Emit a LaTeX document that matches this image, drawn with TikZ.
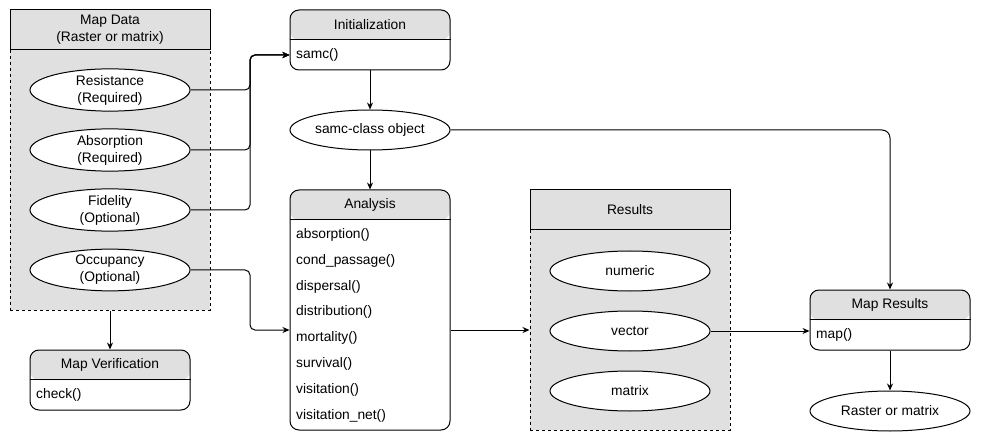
\documentclass[tikz,border=0pt]{standalone}
\usepackage{fontspec}
\setmainfont{Liberation Sans}
\usetikzlibrary{shapes.geometric,arrows.meta,calc}
\definecolor{hdr}{HTML}{E0E0E0}
\begin{document}
\begin{tikzpicture}[x=1pt,y=-1pt,
  every node/.style={font=\fontsize{13.8}{17}\selectfont, text=black},
  lane/.style={draw, rounded corners=9pt, fill=white, minimum width=160pt, minimum height=#1, inner sep=0pt, line width=1pt,
    path picture={\fill[hdr] (path picture bounding box.north west) rectangle ([yshift=-30pt]path picture bounding box.north east);}},
  cont/.style={draw, fill=hdr, line width=1pt, minimum width=200pt, inner sep=0pt, align=center},
  dashbox/.style={dash pattern=on 3pt off 3pt},
  ell/.style={ellipse, draw, fill=white, minimum width=160pt, minimum height=40pt, inner sep=0pt, align=center, line width=1pt},
  row/.style={anchor=west, inner sep=0pt},
  sep/.style={draw, line width=1pt},
  conn/.style={draw, line width=1pt, -{Stealth[length=7pt,width=6pt]}},
]
\useasboundingbox (0,0) rectangle (981,443);

% Map Data container
\node[cont, dashbox, minimum height=260pt] (mdb) at (110,180) {};
\node[cont, minimum height=40pt] (mdh) at (110,30) {Map Data\\(Raster or matrix)};
\node[ell] (res) at (110,90) {Resistance\\(Required)};
\node[ell] (abs) at (110,150) {Absorption\\(Required)};
\node[ell] (fid) at (110,210) {Fidelity\\(Optional)};
\node[ell] (occ) at (110,270) {Occupancy\\(Optional)};

% Map Verification
\node[lane=60pt] (mv) at (110,380) {};
\node (mvh) at (110,365) {Map Verification};
\draw[sep] ([yshift=-30pt]mv.north west) -- ([yshift=-30pt]mv.north east);
\node[row] (mvr) at (36,395) {check()};

% Initialization
\node[lane=60pt] (init) at (370,40) {};
\node (inith) at (370,25) {Initialization};
\draw[sep] ([yshift=-30pt]init.north west) -- ([yshift=-30pt]init.north east);
\node[row] (samc) at (296,55) {samc()};

% samc-class object
\node[ell] (sco) at (370,130) {samc-class object};

% Analysis
\node[lane=240pt] (ana) at (370,310) {};
\node (anah) at (370,205) {Analysis};
\draw[sep] ([yshift=-30pt]ana.north west) -- ([yshift=-30pt]ana.north east);
\node[row] (r1) at (296,235) {absorption()};
\node[row] (r2) at (296,261) {cond\_passage()};
\node[row] (r3) at (296,287) {dispersal()};
\node[row] (r4) at (296,312) {distribution()};
\node[row] (r5) at (296,338) {mortality()};
\node[row] (r6) at (296,364) {survival()};
\node[row] (r7) at (296,390) {visitation()};
\node[row] (r8) at (296,416) {visitation\_net()};

% Results
\node[cont, dashbox, minimum height=200pt] (rb) at (630,330) {};
\node[cont, minimum height=40pt] (rh) at (630,210) {Results};
\node[ell] (num) at (630,271) {numeric};
\node[ell] (vec) at (630,331) {vector};
\node[ell] (mat) at (630,391) {matrix};

% Map Results
\node[lane=60pt] (mres) at (890,320) {};
\node (mresh) at (890,305) {Map Results};
\draw[sep] ([yshift=-30pt]mres.north west) -- ([yshift=-30pt]mres.north east);
\node[row] (mapf) at (816,335) {map()};
\node[ell] (rom) at (890,411) {Raster or matrix};

% Connectors
\coordinate (bus) at (250,0);
\draw[conn, rounded corners=5pt] (res.east) -- (res.east -| bus) |- ([yshift=-15pt]init.west);
\draw[conn, rounded corners=5pt] (abs.east) -- (abs.east -| bus) |- ([yshift=-15pt]init.west);
\draw[conn, rounded corners=5pt] (fid.east) -- (fid.east -| bus) |- ([yshift=-15pt]init.west);
\draw[conn, rounded corners=5pt] (occ.east) -- (occ.east -| bus) |- ([yshift=-20pt]ana.west);
\draw[conn] (mdb.south) -- (mv.north);
\draw[conn] (init.south) -- (sco.north);
\draw[conn] (sco.south) -- (ana.north);
\draw[conn, rounded corners=8pt] (sco.east) -| (mres.north);
\draw[conn] ([yshift=-20pt]ana.east) -- (rb.west);
\draw[conn] (vec.east) -- (vec.east -| mres.west);
\draw[conn] (mres.south) -- (rom.north);
\end{tikzpicture}
\end{document}
